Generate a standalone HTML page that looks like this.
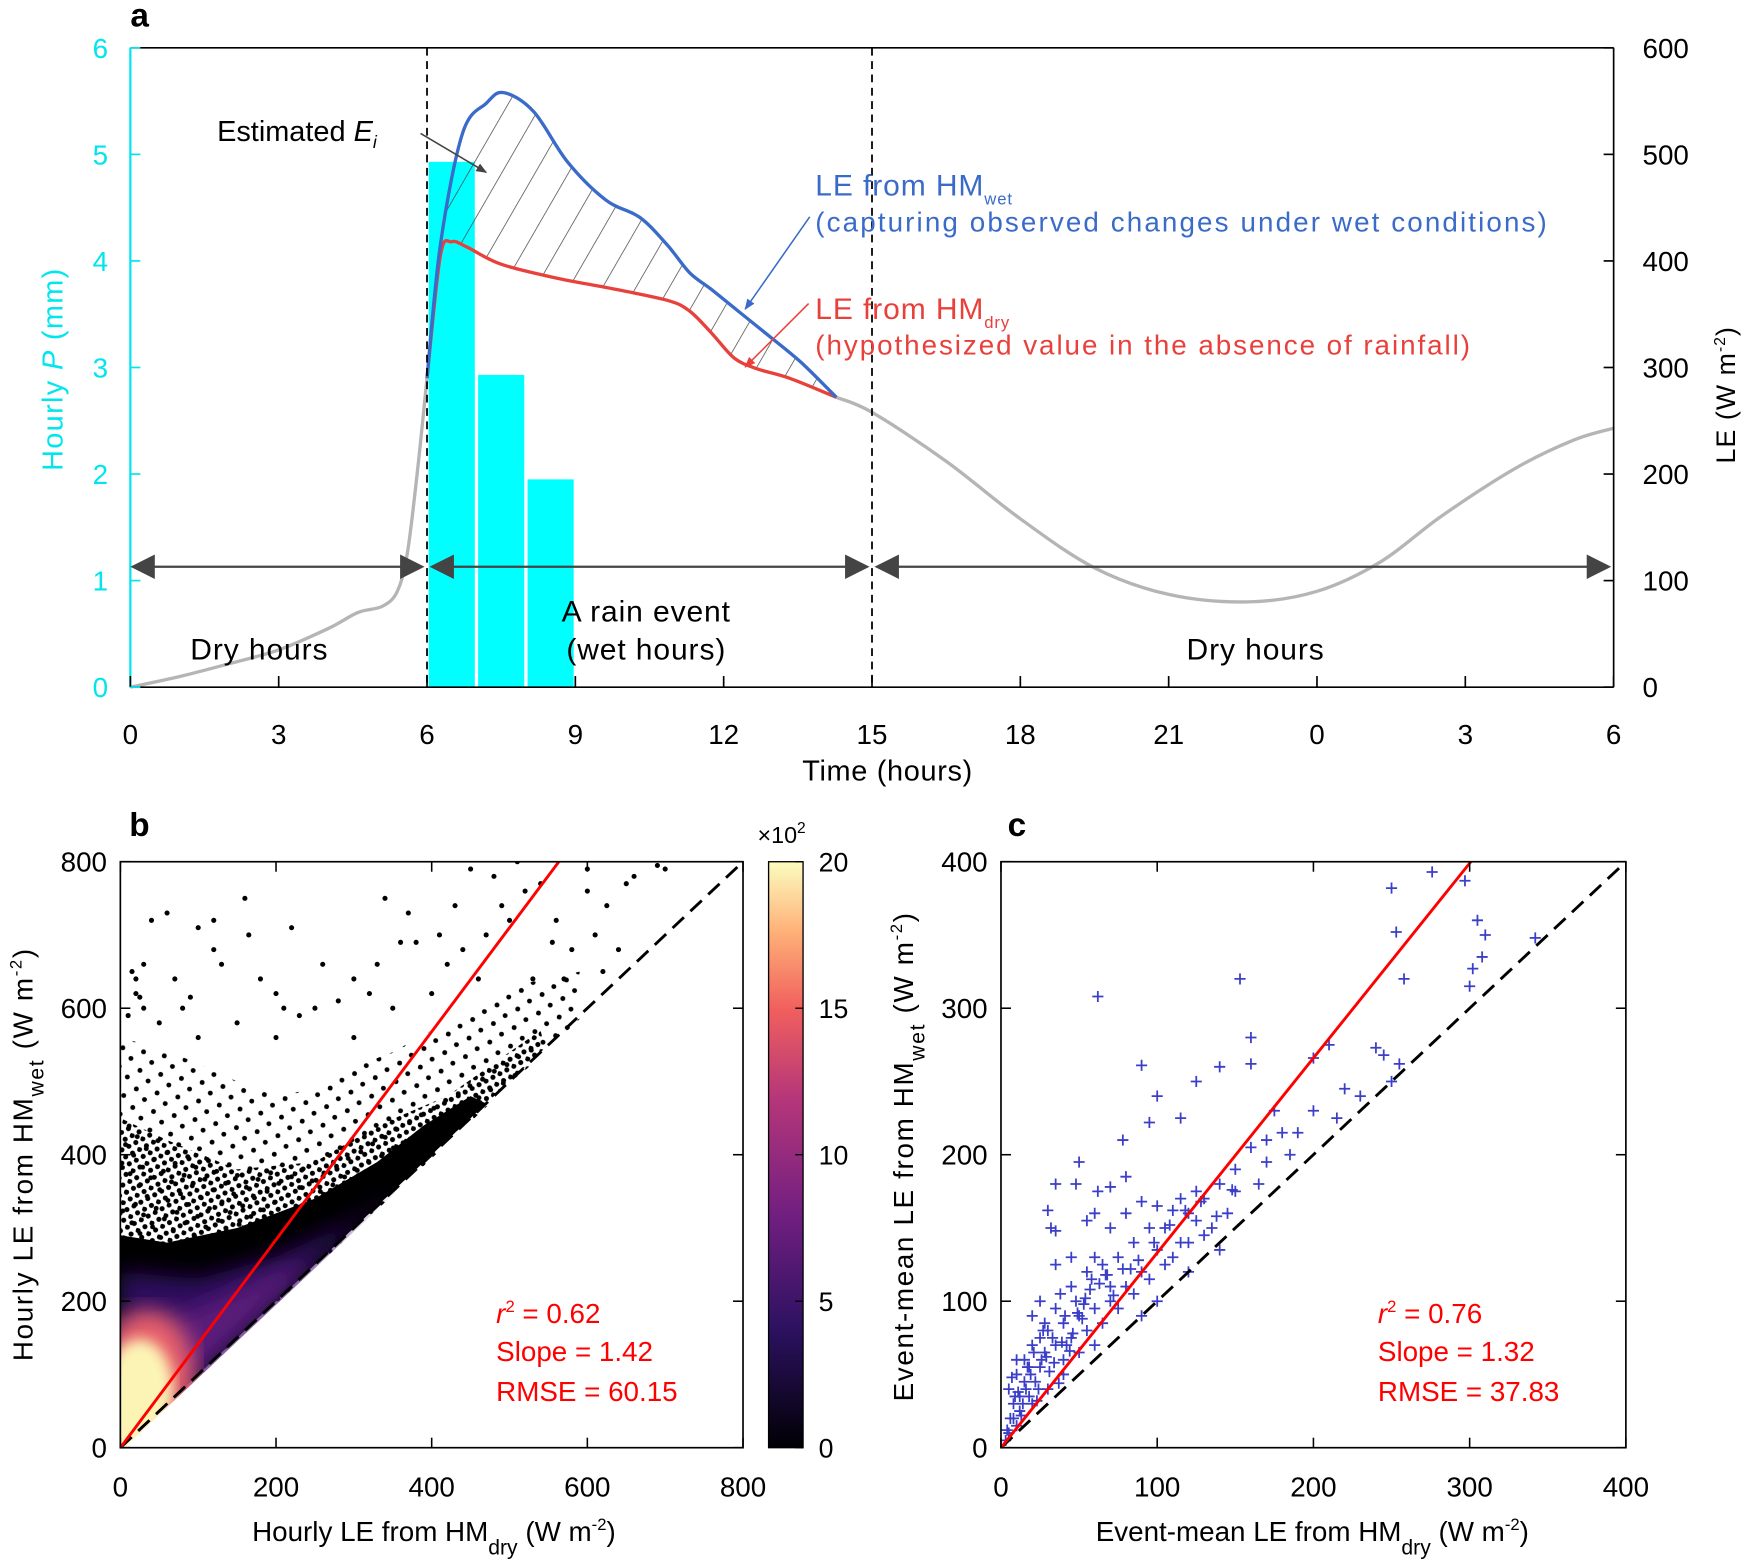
<!DOCTYPE html>
<html><head><meta charset="utf-8"><style>
html,body{margin:0;padding:0;background:#fff}
svg{display:block;font-family:"Liberation Sans",Arial,sans-serif}
</style></head><body>
<svg id="s" width="1744" height="1560" viewBox="0 0 1568 1403" xmlns="http://www.w3.org/2000/svg">
<defs>
<pattern id="hatch" patternUnits="userSpaceOnUse" width="26" height="26" patternTransform="rotate(30)">
<line x1="0" y1="0" x2="0" y2="26" stroke="#444" stroke-width="1.3"/></pattern>
<pattern id="stip" patternUnits="userSpaceOnUse" width="10" height="10" patternTransform="rotate(17)">
<circle cx="2" cy="2" r="2.3" fill="#000"/><circle cx="7" cy="7" r="2.3" fill="#000"/></pattern>
<pattern id="stip2" patternUnits="userSpaceOnUse" width="19" height="17" patternTransform="rotate(11)">
<circle cx="3" cy="3" r="2.2" fill="#000"/><circle cx="12" cy="11" r="2.2" fill="#000"/></pattern>
<linearGradient id="cbar" x1="0" y1="1" x2="0" y2="0">
<stop offset="0" stop-color="#000004"/><stop offset="0.2" stop-color="#2c1160"/><stop offset="0.4" stop-color="#721f81"/>
<stop offset="0.6" stop-color="#b73779"/><stop offset="0.75" stop-color="#f1605d"/><stop offset="0.88" stop-color="#feb078"/><stop offset="1" stop-color="#fcfdbf"/></linearGradient>
<filter id="blur6"><feGaussianBlur stdDeviation="6"/></filter>
<filter id="blur10"><feGaussianBlur stdDeviation="10"/></filter>
<clipPath id="clipB"><rect x="108" y="775" width="560" height="527"/></clipPath>
<marker id="ah" viewBox="0 0 10 10" refX="9" refY="5" markerWidth="7" markerHeight="7" orient="auto"><path d="M0,1 L10,5 L0,9 z" fill="#444"/></marker>
<marker id="ahb" viewBox="0 0 10 10" refX="9" refY="5" markerWidth="7" markerHeight="7" orient="auto"><path d="M0,1 L10,5 L0,9 z" fill="#3a6bc8"/></marker>
<marker id="ahr" viewBox="0 0 10 10" refX="9" refY="5" markerWidth="7" markerHeight="7" orient="auto"><path d="M0,1 L10,5 L0,9 z" fill="#e8413c"/></marker>
</defs>
<g id="ga"></g>
<g id="gb"></g>
<g id="gc"></g>
</svg>
<script>
// ---------- Panel a data ----------
const timeTicks=[0,3,6,9,12,15,18,21,24,27,30];
const timeTickLabels=["0","3","6","9","12","15","18","21","0","3","6"];
const pTicks=[0,1,2,3,4,5,6];
const leTicks=[0,100,200,300,400,500,600];
const rainHours=[6,7,8];
const rainP=[4.93,2.93,1.95];
const greyT1=[0,1,2,3,4,4.6,5.1,5.4,5.6,5.8,6];
const greyLE1=[0,10,22,35,55,70,76,90,125,200,290];
const greyT2=[14.28,15,16.5,18,19.5,21,22.6,24,25.3,26.5,28,29.2,30];
const greyLE2=[272,258,212,158,112,87,80,90,118,160,205,232,243];
const wetT=[6,6.27,6.72,7.2,7.55,8.16,8.84,9.62,10.3,10.86,11.31,11.76,12.32,12.88,13.56,14.28];
const wetLE=[290,415,520,548,558,540,493,457,441,415,389,373,352,331,305,272];
const dryT=[6,6.27,6.5,6.81,7.49,8.61,9.74,10.86,11.31,11.76,12.21,12.66,13.33,14.28];
const dryLE=[290,405,418,413,397,384,374,363,353,332,309,299,290,272];
// ---------- Panel b data ----------
const bTicks=[0,200,400,600,800];
const cbTicks=[0,5,10,15,20];
const bSlope=1.42;
const bSolidX=[0,0,60,150,250,330,390,450,470];
const bSolidY=[0,290,280,300,340,390,440,480,470];
const bDenseX=[0,0,60,150,250,330,420,500,540,545];
const bDenseY=[0,450,420,380,390,440,480,540,570,545];
const bSparseX=[0,0,50,100,150,200,250,300,350,400,450,500,550,590,590];
const bSparseY=[0,560,545,525,500,480,490,520,540,570,600,630,640,650,580];
const bPurpleX=[0,0,100,200,300,360];
const bPurpleY=[0,240,230,260,310,360];
const bOutX=[20,30,40,60,100,120,160,165,220,340,370,450,480,510,540,600,700,650,120,80,30,20,200,260,300,320,420,440,470,500,560,580,620,150,100,250,350,400,460,530,570,200,300,50,230,380,430,520,610,640,10,15,25,70,90,130,180,210,280,330,360,410,490,555,600,625,660,690];
const bOutY=[640,660,720,730,710,720,750,700,710,750,730,790,780,800,770,790,790,770,680,600,600,620,620,660,640,620,660,680,700,720,720,680,650,580,560,600,600,620,640,640,640,560,560,580,590,690,740,760,700,680,590,650,615,640,615,660,640,600,610,660,690,700,740,690,760,740,780,795];
const bStats=["= 0.62","Slope = 1.42","RMSE = 60.15"];
// ---------- Panel c data ----------
const cTicks=[0,100,200,300,400];
const cSlope=1.33;
const cX=[62,153,250,276,297,253,305,310,308,302,300,342,258,160,90,140,240,245,255,210,200,160,125,100,95,115,78,50,35,30,32,35,48,62,70,80,60,55,70,80,90,100,110,120,130,140,150,160,170,175,180,190,200,215,220,230,250,185,170,165,150,145,130,120,110,100,90,80,70,60,50,40,30,20,15,10,5,8,12,18,22,25,28,35,40,45,55,65,75,85,95,105,115,125,135,140,120,100,60,50,40,30,20,10,5,3,15,25,35,45,55,65,75,85,95,105,115,125,90,70,60,45,35,25,20,10,12,8,18,28,38,48,58,68,78,88,42,52,16,26,33,6,9,14,19,24,29,34,39,44,49,54,4,7,11,13,17,21,23,27,31,37,41,46,53,57,63,67,72,83,98,108,118,128,138,148];
const cY=[308,320,382,393,387,352,360,350,335,327,315,348,320,280,261,260,273,268,262,275,266,262,250,240,222,225,210,195,180,162,150,148,180,175,178,185,160,155,150,160,168,165,162,160,170,180,190,205,210,230,215,215,230,225,245,240,250,200,195,180,175,160,145,140,130,135,120,110,100,95,90,85,80,70,60,50,40,30,25,35,45,55,65,70,60,75,80,85,95,105,115,125,140,155,150,135,120,100,70,65,50,40,30,15,10,5,45,75,95,110,120,125,130,140,150,150,170,175,90,110,130,130,125,100,90,60,35,20,55,85,105,100,115,118,122,128,70,88,40,60,75,20,35,30,50,40,62,58,72,66,92,102,12,48,38,22,55,65,32,80,52,44,90,78,98,108,112,118,104,122,140,152,162,168,158,176];
const cStats=["= 0.76","Slope = 1.32","RMSE = 37.83"];

const NS="http://www.w3.org/2000/svg";
function mk(tag,attrs,parent,text){const e=document.createElementNS(NS,tag);for(const k in attrs)e.setAttribute(k,attrs[k]);if(text!==undefined)e.textContent=text;parent.appendChild(e);return e;}
function smooth(xs,ys,fx,fy){const p=xs.map((v,i)=>[fx(v),fy(ys[i])]);let d='M'+p[0][0]+','+p[0][1];for(let i=0;i<p.length-1;i++){const p0=p[Math.max(0,i-1)],p1=p[i],p2=p[i+1],p3=p[Math.min(p.length-1,i+2)];const c1=[p1[0]+(p2[0]-p0[0])/6,p1[1]+(p2[1]-p0[1])/6],c2=[p2[0]-(p3[0]-p1[0])/6,p2[1]-(p3[1]-p1[1])/6];d+=` C${c1[0].toFixed(1)},${c1[1].toFixed(1)} ${c2[0].toFixed(1)},${c2[1].toFixed(1)} ${p2[0].toFixed(1)},${p2[1].toFixed(1)}`;}return d;}

// ===== Panel a =====
const ga=document.getElementById('ga');
const aL=117,aR=1451,aT=43,aB=618;
const ax=t=>aL+(aR-aL)*t/30, ayP=p=>aB-(aB-aT)*p/6, ayL=v=>aB-(aB-aT)*v/600;
let e;
rainHours.forEach((h,i)=>{e=mk('rect',{x:ax(h)+1.5,y:ayP(rainP[i]),width:ax(h+1)-ax(h)-3,height:aB-ayP(rainP[i]),fill:'#00ffff'},ga);

});
const hp=smooth(wetT,wetLE,ax,ayL)+' L'+[...dryT].reverse().map((t,i)=>ax(t)+','+ayL(dryLE[dryLE.length-1-i])).join(' L')+' Z';
e=mk('path',{d:hp,fill:'url(#hatch)'},ga);


e=mk('path',{d:smooth(greyT1,greyLE1,ax,ayL),fill:'none',stroke:'#b5b5b5','stroke-width':3},ga);


e=mk('path',{d:smooth(greyT2,greyLE2,ax,ayL),fill:'none',stroke:'#b5b5b5','stroke-width':3},ga);


e=mk('path',{d:smooth(dryT,dryLE,ax,ayL),fill:'none',stroke:'#e8413c','stroke-width':3},ga);


e=mk('path',{d:smooth(wetT,wetLE,ax,ayL),fill:'none',stroke:'#3a6bc8','stroke-width':3},ga);


[6,15].forEach(t=>{e=mk('line',{x1:ax(t),x2:ax(t),y1:aT,y2:aB,stroke:'#000','stroke-width':1.6,'stroke-dasharray':'7,5'},ga);

});
mk('line',{x1:aL,x2:aR,y1:aT,y2:aT,stroke:'#000','stroke-width':1.5},ga);
mk('line',{x1:aL,x2:aR,y1:aB,y2:aB,stroke:'#000','stroke-width':1.5},ga);
mk('line',{x1:aR,x2:aR,y1:aT,y2:aB,stroke:'#000','stroke-width':1.5},ga);
mk('line',{x1:aL,x2:aL,y1:aT,y2:aB,stroke:'#00e5ee','stroke-width':2},ga);
timeTicks.forEach((t,i)=>{mk('line',{x1:ax(t),x2:ax(t),y1:aB,y2:aB-10,stroke:'#000','stroke-width':1.5},ga);
e=mk('text',{x:ax(t),y:aB+51,'font-size':25,'text-anchor':'middle'},ga,timeTickLabels[i]);

});
pTicks.forEach(p=>{mk('line',{x1:aL,x2:aL+9,y1:ayP(p),y2:ayP(p),stroke:'#00e5ee','stroke-width':1.5},ga);
e=mk('text',{x:aL-20,y:ayP(p)+9,'font-size':25,'text-anchor':'end',fill:'#00e5ee'},ga,String(p));

});
leTicks.forEach(v=>{mk('line',{x1:aR,x2:aR-9,y1:ayL(v),y2:ayL(v),stroke:'#000','stroke-width':1.5},ga);
e=mk('text',{x:aR+26,y:ayL(v)+9,'font-size':25},ga,String(v));

});
[[0,5.95],[6.05,14.95],[15.05,29.95]].forEach(r=>{const y=ayL(113);
mk('line',{x1:ax(r[0])+20,x2:ax(r[1])-20,y1:y,y2:y,stroke:'#444','stroke-width':2},ga);
mk('path',{d:`M${ax(r[0])},${y} l22,-11 v22 z`,fill:'#444'},ga);
mk('path',{d:`M${ax(r[1])},${y} l-22,-11 v22 z`,fill:'#444'},ga);});
</script>
<script>
(function(){
const ga=document.getElementById('ga');
function T(x,y,s,txt,name,attrs){const t=document.createElementNS("http://www.w3.org/2000/svg",'text');t.setAttribute('x',x);t.setAttribute('y',y);t.setAttribute('font-size',s);for(const k in (attrs||{}))t.setAttribute(k,attrs[k]);t.innerHTML=txt;ga.appendChild(t);return t;}
T(117,24,30,'a','panel-a-label',{'font-weight':'bold'});
T(233,593,27,'Dry hours','dry-hours-label',{'text-anchor':'middle','letter-spacing':'0.8'});
T(581,559,27,'A rain event','rain-event-label',{'text-anchor':'middle','letter-spacing':'0.8'});
T(581,593,27,'(wet hours)','wet-hours-label',{'text-anchor':'middle','letter-spacing':'0.8'});
T(1129,593,27,'Dry hours','dry-hours-label-2',{'text-anchor':'middle','letter-spacing':'0.8'});
T(195,127,26,'Estimated <tspan font-style="italic">E</tspan><tspan font-style="italic" font-size="16" dy="6">i</tspan>','estimated-ei-label');
T(733,176,27,'LE from HM<tspan font-size="15" dy="8">wet</tspan>','le-wet-label',{fill:'#3a6bc8','letter-spacing':'0.8'});
T(733,208,25,'(capturing observed changes under wet conditions)','le-wet-desc',{fill:'#3a6bc8','letter-spacing':'1.9'});
T(733,287,27,'LE from HM<tspan font-size="15" dy="8">dry</tspan>','le-dry-label',{fill:'#e8413c','letter-spacing':'0.8'});
T(733,319,25,'(hypothesized value in the absence of rainfall)','le-dry-desc',{fill:'#e8413c','letter-spacing':'1.75'});
T(798,702,26,'Time (hours)','x-axis-title',{'text-anchor':'middle','letter-spacing':'0.6'});
T(0,0,26,'Hourly <tspan font-style="italic">P</tspan> (mm)','p-axis-title',{'text-anchor':'middle',fill:'#00e5ee','letter-spacing':'1.2',transform:'translate(56,332) rotate(-90)'});
T(0,0,24,'LE (W m<tspan font-size="14" dy="-9">-2</tspan><tspan dy="9">)</tspan>','le-axis-title',{'text-anchor':'middle','letter-spacing':'1',transform:'translate(1560,355) rotate(-90)'});
const L=(x1,y1,x2,y2,c,m,n)=>{const l=document.createElementNS("http://www.w3.org/2000/svg",'line');l.setAttribute('x1',x1);l.setAttribute('y1',y1);l.setAttribute('x2',x2);l.setAttribute('y2',y2);l.setAttribute('stroke',c);l.setAttribute('stroke-width',1.4);l.setAttribute('marker-end',`url(#${m})`);ga.appendChild(l);};
L(378,120,437,155,'#444','ah','ei-pointer');
L(728,195,670,278,'#3a6bc8','ahb','wet-pointer');
L(727,273,670,330,'#e8413c','ahr','dry-pointer');
})();
</script>
<script>
(function(){
const NS="http://www.w3.org/2000/svg";
function mk(tag,attrs,parent,text){const e=document.createElementNS(NS,tag);for(const k in attrs)e.setAttribute(k,attrs[k]);if(text!==undefined)e.innerHTML=text;parent.appendChild(e);return e;}
let e;
// ===== Panel b =====
const gb=document.getElementById('gb');
const bL=108,bR=668,bT=775,bB=1302;
const bx=v=>bL+(bR-bL)*v/800, by=v=>bB-(bB-bT)*v/800;
const poly=(xs,ys)=>xs.map((x,i)=>bx(x)+','+by(ys[i])).join(' ');
const clip=mk('g',{'clip-path':'url(#clipB)'},gb);
e=mk('polygon',{points:poly(bSparseX,bSparseY),fill:'url(#stip2)'},clip);


e=mk('polygon',{points:poly(bDenseX,bDenseY),fill:'url(#stip)'},clip);


e=mk('polygon',{points:poly(bSolidX,bSolidY),fill:'#000'},clip);


e=mk('polygon',{points:poly(bPurpleX,bPurpleY),fill:'#2d1060',filter:'url(#blur10)'},clip);


e=mk('polygon',{points:[[0,0],[0,170],[50,170],[120,200],[200,240],[250,255]].map(p=>bx(p[0])+','+by(p[1])).join(' '),fill:'#5c1a7a',filter:'url(#blur10)'},clip);


e=mk('ellipse',{cx:bx(35),cy:by(100),rx:42,ry:58,fill:'#e8606a',filter:'url(#blur10)'},clip);


e=mk('ellipse',{cx:bx(25),cy:by(80),rx:30,ry:45,fill:'#fcf4b5',filter:'url(#blur6)'},clip);


e=mk('rect',{x:bx(0),y:by(60),width:bx(25)-bx(0),height:by(0)-by(60),fill:'#fcf4b5'},clip);


e=mk('polygon',{points:`${bx(0)},${by(-5)} ${bx(805)},${by(800)} ${bx(900)},${by(800)} ${bx(900)},${by(-50)}`,fill:'#fff'},clip);
bOutX.forEach((x,i)=>{e=mk('circle',{cx:bx(x),cy:by(bOutY[i]),r:2.3,fill:'#000'},clip);

});
e=mk('line',{x1:bx(0),y1:by(0),x2:bx(800),y2:by(800),stroke:'#000','stroke-width':2.6,'stroke-dasharray':'14,8'},gb);


e=mk('line',{x1:bx(0),y1:by(0),x2:bx(800/bSlope),y2:by(800),stroke:'#ff0000','stroke-width':2.6},gb);


mk('rect',{x:bL,y:bT,width:bR-bL,height:bB-bT,fill:'none',stroke:'#000','stroke-width':1.5},gb);
bTicks.forEach(v=>{
mk('line',{x1:bx(v),x2:bx(v),y1:bB,y2:bB-9,stroke:'#000','stroke-width':1.4},gb);
mk('line',{x1:bx(v),x2:bx(v),y1:bT,y2:bT+9,stroke:'#000','stroke-width':1.4},gb);
mk('line',{x1:bL,x2:bL+9,y1:by(v),y2:by(v),stroke:'#000','stroke-width':1.4},gb);
mk('line',{x1:bR,x2:bR-9,y1:by(v),y2:by(v),stroke:'#000','stroke-width':1.4},gb);
e=mk('text',{x:bx(v),y:bB+44,'font-size':25,'text-anchor':'middle'},gb,String(v));


e=mk('text',{x:bL-12,y:by(v)+9,'font-size':25,'text-anchor':'end'},gb,String(v));

});
e=mk('rect',{x:691,y:bT,width:31,height:bB-bT,fill:'url(#cbar)',stroke:'#000','stroke-width':1.2},gb);


cbTicks.forEach(v=>{const y=bB-(bB-bT)*v/20;
mk('line',{x1:722,x2:715,y1:y,y2:y,stroke:'#000','stroke-width':1.2},gb);
e=mk('text',{x:736,y:y+9,'font-size':24},gb,String(v));

});
e=mk('text',{x:681,y:758,'font-size':21},gb,'×10<tspan font-size="14" dy="-9">2</tspan>');


e=mk('text',{x:116,y:752,'font-size':30,'font-weight':'bold'},gb,'b');


e=mk('text',{x:446,y:1190,'font-size':25,fill:'#ff0000'},gb,'<tspan font-style="italic">r</tspan><tspan font-size="15" dy="-10">2</tspan><tspan dy="10"> '+bStats[0]+'</tspan>');


e=mk('text',{x:446,y:1224,'font-size':25,fill:'#ff0000'},gb,bStats[1]);


e=mk('text',{x:446,y:1260,'font-size':25,fill:'#ff0000'},gb,bStats[2]);


e=mk('text',{x:390,y:1386,'font-size':25,'text-anchor':'middle'},gb,'Hourly LE from HM<tspan font-size="19" dy="12">dry</tspan><tspan dy="-12"> (W m</tspan><tspan font-size="15" dy="-10">-2</tspan><tspan dy="10">)</tspan>');


e=mk('text',{x:0,y:0,'font-size':25,'text-anchor':'middle','letter-spacing':'1.5',transform:'translate(29,1038) rotate(-90)'},gb,'Hourly LE from HM<tspan font-size="19" dy="10">wet</tspan><tspan dy="-10"> (W m</tspan><tspan font-size="15" dy="-10">-2</tspan><tspan dy="10">)</tspan>');



// ===== Panel c =====
const gc=document.getElementById('gc');
const cL=900,cR=1462,cT=775,cB=1302;
const cx=v=>cL+(cR-cL)*v/400, cy=v=>cB-(cB-cT)*v/400;
cX.forEach((x,i)=>{e=mk('path',{d:`M${cx(x)-5},${cy(cY[i])} h10 M${cx(x)},${cy(cY[i])-5} v10`,stroke:'#3b3fc8','stroke-width':1.6,fill:'none'},gc);

});
e=mk('line',{x1:cx(0),y1:cy(0),x2:cx(400),y2:cy(400),stroke:'#000','stroke-width':2.6,'stroke-dasharray':'14,8'},gc);


e=mk('line',{x1:cx(0),y1:cy(0),x2:cx(400/cSlope),y2:cy(400),stroke:'#ff0000','stroke-width':2.6},gc);


mk('rect',{x:cL,y:cT,width:cR-cL,height:cB-cT,fill:'none',stroke:'#000','stroke-width':1.5},gc);
cTicks.forEach(v=>{
mk('line',{x1:cx(v),x2:cx(v),y1:cB,y2:cB-9,stroke:'#000','stroke-width':1.4},gc);
mk('line',{x1:cx(v),x2:cx(v),y1:cT,y2:cT+9,stroke:'#000','stroke-width':1.4},gc);
mk('line',{x1:cL,x2:cL+9,y1:cy(v),y2:cy(v),stroke:'#000','stroke-width':1.4},gc);
mk('line',{x1:cR,x2:cR-9,y1:cy(v),y2:cy(v),stroke:'#000','stroke-width':1.4},gc);
e=mk('text',{x:cx(v),y:cB+44,'font-size':25,'text-anchor':'middle'},gc,String(v));


e=mk('text',{x:cL-12,y:cy(v)+9,'font-size':25,'text-anchor':'end'},gc,String(v));

});
e=mk('text',{x:906,y:752,'font-size':30,'font-weight':'bold'},gc,'c');


e=mk('text',{x:1239,y:1190,'font-size':25,fill:'#ff0000'},gc,'<tspan font-style="italic">r</tspan><tspan font-size="15" dy="-10">2</tspan><tspan dy="10"> '+cStats[0]+'</tspan>');


e=mk('text',{x:1239,y:1224,'font-size':25,fill:'#ff0000'},gc,cStats[1]);


e=mk('text',{x:1239,y:1260,'font-size':25,fill:'#ff0000'},gc,cStats[2]);


e=mk('text',{x:1180,y:1386,'font-size':25,'text-anchor':'middle'},gc,'Event-mean LE from HM<tspan font-size="19" dy="12">dry</tspan><tspan dy="-12"> (W m</tspan><tspan font-size="15" dy="-10">-2</tspan><tspan dy="10">)</tspan>');


e=mk('text',{x:0,y:0,'font-size':25,'text-anchor':'middle','letter-spacing':'1.5',transform:'translate(821,1040) rotate(-90)'},gc,'Event-mean LE from HM<tspan font-size="19" dy="10">wet</tspan><tspan dy="-10"> (W m</tspan><tspan font-size="15" dy="-10">-2</tspan><tspan dy="10">)</tspan>');


})();
</script>
</body></html>
